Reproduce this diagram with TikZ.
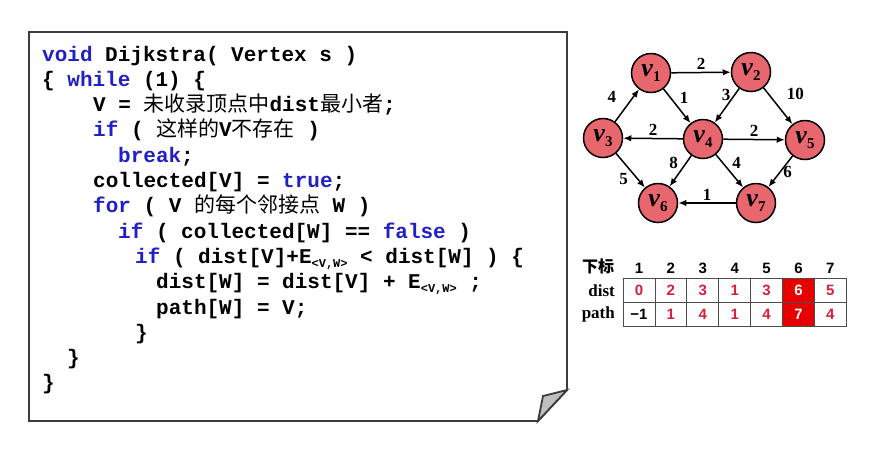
\documentclass[tikz,border=0pt]{standalone}
\usepackage{fontspec}
\setmainfont{Liberation Serif}
\setsansfont{Liberation Sans}
\setmonofont{Liberation Mono}
\newfontfamily\cjk{Noto Sans CJK SC}
\usetikzlibrary{arrows.meta,positioning}
\definecolor{kwblue}{HTML}{2020C4}
\definecolor{vertexred}{HTML}{E8676F}
\definecolor{digitred}{HTML}{D81E3A}
\definecolor{cellred}{HTML}{E60000}
\definecolor{papergray}{HTML}{3C3C3C}
\newcommand{\kw}[1]{\textcolor{kwblue}{#1}}
\newcommand{\zh}[1]{{\cjk\mdseries #1}}
\newcommand{\Evw}{E\raisebox{-4pt}{\fontsize{12}{12}\selectfont <V,W>}}
\newcommand{\vname}[1]{\textit{v}\raisebox{-5pt}{\fontsize{15}{15}\selectfont #1}}
\tikzset{
  codeline/.style={anchor=base west,inner sep=0pt,
                   font=\fontsize{21}{25}\selectfont\ttfamily\bfseries},
  paper/.style={draw=papergray,line width=1.8pt,line join=miter},
  vertex/.style={circle,draw=black,line width=1.5pt,fill=vertexred,
                 minimum size=39pt,inner sep=0pt,
                 font=\fontsize{26}{26}\selectfont\bfseries},
  link/.style={-{Latex[length=8pt,width=6.5pt]},draw=black,line width=1.5pt},
  wlabel/.style={font=\fontsize{17}{17}\selectfont\bfseries,inner sep=2pt},
  cell/.style={draw=black!70,line width=0.9pt,minimum width=31.9pt,
               minimum height=24pt,inner sep=0pt,outer sep=0pt,
               font=\fontsize{15}{15}\selectfont\sffamily\bfseries,text=digitred},
  hot/.style={cell,fill=cellred,text=white},
  rowname/.style={font=\fontsize{17}{17}\selectfont\bfseries,inner sep=0pt},
  idx/.style={font=\fontsize{15}{15}\selectfont\sffamily\bfseries,inner sep=2pt}
}

\begin{document}
\begin{tikzpicture}[x=1pt,y=-1pt]
  \useasboundingbox (0,0) rectangle (889,459);

  % code sheet with turned corner
  \draw[paper] (29,32) -- (567,32) -- (567,390) -- (538,421) -- (29,421) -- cycle;
  \draw[paper,fill=black!25] (567,390) -- (543,396) -- (538,421) -- cycle;

  \node[codeline] (l1) at (42,61) {\kw{void} Dijkstra( Vertex s )};
  \node[codeline] (l2) at (42,86.3) {\{ \kw{while} (1) \{};
  \node[codeline] (l3) at (93,111.6) {V = \zh{未收录顶点中}dist\zh{最小者};};
  \node[codeline] (l4) at (93,136.9) {\kw{if} ( \zh{这样的}V\zh{不存在} )};
  \node[codeline] (l5) at (118,162.2) {\kw{break};};
  \node[codeline] (l6) at (93,187.5) {collected[V] = \kw{true};};
  \node[codeline] (l7) at (93,212.8) {\kw{for} ( V \zh{的每个邻接点} W )};
  \node[codeline] (l8) at (118,238.1) {\kw{if} ( collected[W] == \kw{false} )};
  \node[codeline] (l9) at (135,263.4) {\kw{if} ( dist[V]+\Evw{} < dist[W] ) \{};
  \node[codeline] (l10) at (156,288.7) {dist[W] = dist[V] + \Evw{} ;};
  \node[codeline] (l11) at (156,314) {path[W] = V;};
  \node[codeline] (l12) at (135,339.3) {\}};
  \node[codeline] (l13) at (67,364.6) {\}};
  \node[codeline] (l14) at (42,389.9) {\}};

  % graph
  \node[vertex] (v1) at (651,73) {\vname{1}};
  \node[vertex] (v2) at (751,72) {\vname{2}};
  \node[vertex] (v3) at (603,138) {\vname{3}};
  \node[vertex] (v4) at (703,139) {\vname{4}};
  \node[vertex] (v5) at (805,140) {\vname{5}};
  \node[vertex] (v6) at (658,203) {\vname{6}};
  \node[vertex] (v7) at (756,203) {\vname{7}};

  \draw[link] (v1) -- node[wlabel,above] {2} (v2);
  \draw[link] (v1) -- node[wlabel,above right] {1} (v4);
  \draw[link] (v2) -- node[wlabel,above,pos=0.45,xshift=-2pt] {3} (v4);
  \draw[link] (v2) -- node[wlabel,above right,xshift=6pt,yshift=4pt] {10} (v5);
  \draw[link] (v3) -- node[wlabel,left=14pt,pos=0.75] {4} (v1);
  \draw[link] (v4) -- node[wlabel,above] {2} (v3);
  \draw[link] (v4) -- node[wlabel,above] {2} (v5);
  \draw[link] (v4) -- node[wlabel,above left] {8} (v6);
  \draw[link] (v4) -- node[wlabel,above right] {4} (v7);
  \draw[link] (v3) -- node[wlabel,below left] {5} (v6);
  \draw[link] (v5) -- node[wlabel,right] {6} (v7);
  \draw[link] (v7) -- node[wlabel,above] {1} (v6);

  % dist / path table
  \node[cell] (d1) at (639,290.5) {0};
  \node[cell,right=0pt of d1] (d2) {2};
  \node[cell,right=0pt of d2] (d3) {3};
  \node[cell,right=0pt of d3] (d4) {1};
  \node[cell,right=0pt of d4] (d5) {3};
  \node[hot,right=0pt of d5] (d6) {6};
  \node[cell,right=0pt of d6] (d7) {5};
  \node[cell,text=black,below=0pt of d1] (p1) {−1};
  \node[cell,right=0pt of p1] (p2) {1};
  \node[cell,right=0pt of p2] (p3) {4};
  \node[cell,right=0pt of p3] (p4) {1};
  \node[cell,right=0pt of p4] (p5) {4};
  \node[hot,right=0pt of p5] (p6) {7};
  \node[cell,right=0pt of p6] (p7) {4};

  \node[idx,above=3pt of d1] (n1) {1};
  \node[idx,above=3pt of d2] (n2) {2};
  \node[idx,above=3pt of d3] (n3) {3};
  \node[idx,above=3pt of d4] (n4) {4};
  \node[idx,above=3pt of d5] (n5) {5};
  \node[idx,above=3pt of d6] (n6) {6};
  \node[idx,above=3pt of d7] (n7) {7};

  \node[rowname,left=8pt of d1] (dname) {dist};
  \node[rowname,left=8pt of p1] (pname) {path};
  \node[rowname,font=\fontsize{16}{16}\selectfont\cjk\bfseries] (sub) at (598,266) {下标};
\end{tikzpicture}
\end{document}
